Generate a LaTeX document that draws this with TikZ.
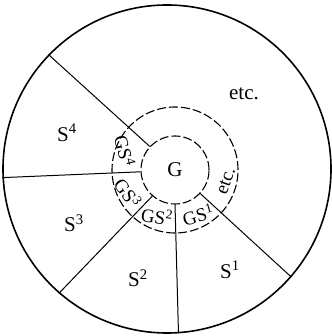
\documentclass[tikz,border=0pt]{standalone}
\usepackage{fontspec}
\setmainfont{Liberation Serif}
\usetikzlibrary{positioning}

\begin{document}
\begin{tikzpicture}[x=1pt, y=1pt, font=\fontsize{21}{24}\selectfont,
  ring/.style={circle, draw, dash pattern=on 9pt off 3pt, line width=1.1pt, inner sep=0pt},
  spoke/.style={line width=1pt},
  gs/.style={font=\fontsize{19}{22}\selectfont, inner sep=0pt}]
\useasboundingbox (-175,-166) rectangle (156,170);
\node[circle, draw, line width=1.6pt, minimum size=328pt, inner sep=0pt] (disk) at (-8,1) {};
\node[ring, minimum size=126pt] (band) at (0,0) {};
\node[ring, minimum size=68pt] (G) at (0,0) {G};
% spokes between the sectors
\foreach \a/\b in {137/136,183/183,229/229.7,270/274.5,317/319.6}
  \draw[spoke] (G.\a) -- (disk.\b);
\node (etc) at (69,76) {etc.};
\node (s4) at (-108,37) {S\textsuperscript{4}};
\node (s3) at (-101,-53) {S\textsuperscript{3}};
\node (s2) at (-37,-108) {S\textsuperscript{2}};
\node (s1) at (55,-100) {S\textsuperscript{1}};
\node[gs, rotate=-76] (gs4) at (-50,19) {GS\textsuperscript{4}};
\node[gs, rotate=-55] (gs3) at (-47,-23) {GS\textsuperscript{3}};
\node[gs, rotate=-8] (gs2) at (-18,-46) {GS\textsuperscript{2}};
\node[gs, rotate=16] (gs1) at (23,-45) {GS\textsuperscript{1}};
\node[gs, rotate=70] (getc) at (51,-11) {etc.};
\end{tikzpicture}
\end{document}
